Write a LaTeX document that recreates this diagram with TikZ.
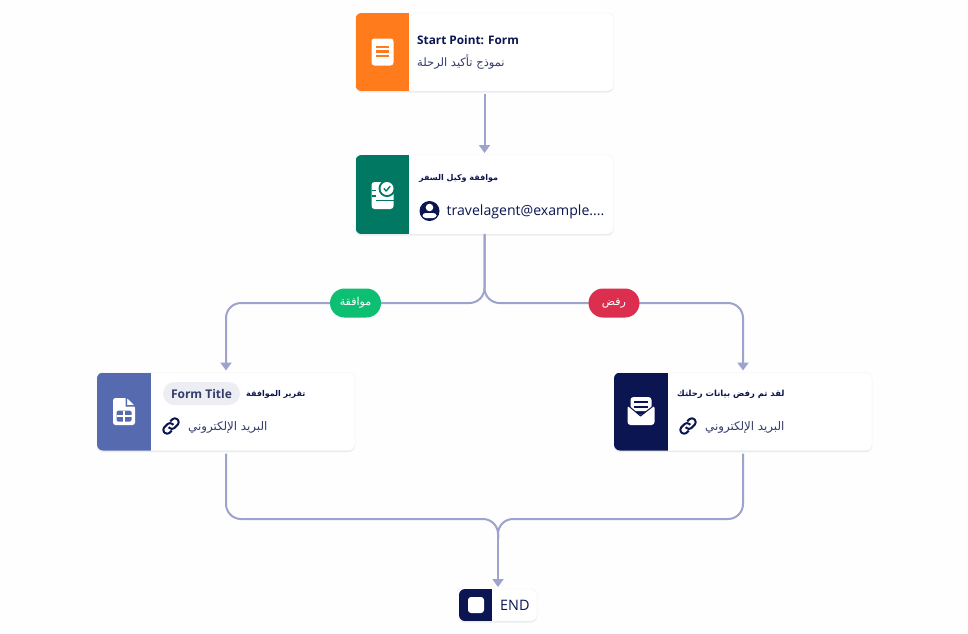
\documentclass[tikz,border=0pt]{standalone}
\usepackage{fontspec}
\usetikzlibrary{arrows.meta,shadows}
\setmainfont{Open Sans}
\newfontfamily\arabicfont[Script=Arabic]{DejaVu Sans}
\TeXXeTstate=1
\definecolor{navy}{HTML}{0A1551}
\definecolor{wire}{HTML}{9DA3CC}
\definecolor{flame}{HTML}{FF7B1C}
\definecolor{teal}{HTML}{007862}
\definecolor{slate}{HTML}{556AAF}
\definecolor{okgreen}{HTML}{0CBF73}
\definecolor{nored}{HTML}{DC2F4F}
\definecolor{tagfill}{HTML}{EDEEF4}
\definecolor{subtext}{HTML}{343C6A}
\definecolor{paper}{HTML}{FEFEFE}
\newcommand{\artext}[1]{{\arabicfont\beginR #1\endR}}
\newcommand{\txt}[1]{\fontsize{#1}{#1}\selectfont}
\tikzset{
  card/.style={draw=black!5,fill=white,rounded corners=6pt,outer sep=0pt,inner sep=0pt,
    minimum width=258pt,minimum height=78pt,
    drop shadow={shadow xshift=0pt,shadow yshift=-1.5pt,opacity=.08,fill=navy}},
  wireline/.style={draw=wire,line width=2pt,-{Triangle[width=11pt,length=8pt]},shorten >=2pt},
  wireplain/.style={draw=wire,line width=2pt},
  pill/.style={text=white,minimum width=51pt,minimum height=29pt,inner sep=0pt,rounded corners=14.5pt},
  heading/.style={anchor=west,inner sep=0pt,text=navy,font=\txt{11.8}\bfseries},
  plainlabel/.style={anchor=west,inner sep=0pt,text=subtext}
}
% icon panel on the left of a card
\newcommand{\cardpanel}[3]{
  \begin{scope}
    \clip[rounded corners=6pt] (#1.north west) rectangle (#1.south east);
    \fill[#2] (#1.north west) rectangle ([xshift=#3]#1.south west);
  \end{scope}
}
\newcommand{\linkicon}[1]{
  \begin{scope}[shift={#1},rotate=45,draw=navy,line width=2pt,rounded corners=3.4pt]
    \draw (2.4,0.8) -- (2.4,-3.8) -- (-9.2,-3.8) -- (-9.2,3.8) -- (-2.8,3.8);
    \draw (-2.4,-0.8) -- (-2.4,3.8) -- (9.2,3.8) -- (9.2,-3.8) -- (2.8,-3.8);
  \end{scope}
}
\begin{document}
\begin{tikzpicture}[x=1pt,y=-1pt,line join=round]
  \useasboundingbox (0,0) rectangle (968,633);
  \fill[paper] (0,0) rectangle (968,633);

  % cards
  \node[card] (start) at (484.5,52) {};
  \node[card,minimum height=79pt] (agent) at (484.5,194.5) {};
  \node[card] (approved) at (226,411.5) {};
  \node[card] (rejected) at (743,411.5) {};
  \node[card,minimum width=78pt,minimum height=32pt] (finish) at (498,605) {};
  \cardpanel{start}{flame}{53pt}
  \cardpanel{agent}{teal}{53pt}
  \cardpanel{approved}{slate}{54pt}
  \cardpanel{rejected}{navy}{54pt}
  \cardpanel{finish}{navy}{33pt}

  % connectors
  \coordinate (split) at (484.5,303);
  \coordinate (merge) at (498,519);
  \draw[wireline] ([yshift=-3pt]start.south) -- (agent.north);
  \draw[wireline,rounded corners=15pt] (agent.south) -- (split) -| (approved.north);
  \draw[wireline,rounded corners=15pt] (agent.south) -- (split) -| (rejected.north);
  \draw[wireplain,rounded corners=15pt] ([yshift=-3pt]approved.south) |- (merge) -- ++(0,20);
  \draw[wireplain,rounded corners=15pt] ([yshift=-3pt]rejected.south) |- (merge) -- ++(0,20);
  \draw[wireline] ([yshift=-20pt]merge) -- (finish.north);

  \node[pill,fill=okgreen] (yes) at (355.5,303) {\raisebox{-1pt}{\txt{11}\artext{موافقة}}};
  \node[pill,fill=nored] (no) at (614,303) {\raisebox{-1pt}{\txt{11}\artext{رفض}}};

  % texts
  \node[heading] (starttitle) at (417,40) {Start Point: Form};
  \node[plainlabel] (startsub) at (417,62) {\txt{11.5}\artext{نموذج تأكيد الرحلة}};
  \node[heading] (agenttitle) at (419,178) {\txt{8}\artext{موافقة وكيل السفر}};
  \node[anchor=west,inner sep=0pt,text=navy] (agentmail) at (446.5,212) {\txt{14.1}travelagent@example....};
  \node[fill=tagfill,text=subtext,font=\txt{12}\bfseries,minimum width=77pt,minimum height=23pt,inner sep=0pt,rounded corners=11.5pt] (formtag) at (201.5,393.5) {Form Title};
  \node[heading] (approvedtitle) at (246,394.5) {\txt{8}\artext{تقرير الموافقة}};
  \node[plainlabel] (approvedsub) at (188,427) {\txt{11.8}\artext{البريد الإلكتروني}};
  \node[heading] (rejectedtitle) at (677,394.5) {\txt{8.4}\artext{لقد تم رفض بيانات رحلتك}};
  \node[plainlabel] (rejectedsub) at (705,427) {\txt{11.8}\artext{البريد الإلكتروني}};
  \node[anchor=west,inner sep=0pt,text=navy] (finishlabel) at (500,605) {\txt{14.4}END};

  % form icon
  \fill[white,rounded corners=3pt] (371.5,38.5) rectangle (393.5,65.5);
  \foreach \y in {47,51.5,56} {
      \fill[flame] (376,\y-1.2) rectangle (389,\y+1.2);
    }
  % approval icon
  \fill[white,rounded corners=3pt] (371.5,182) rectangle (393.5,209);
  \fill[teal] (371.5,189.5) rectangle (376,191);
  \fill[teal] (371.5,195) rectangle (376,196.5);
  \fill[teal] (376,199.8) rectangle (393.5,201.3);
  \fill[teal] (387,188.5) circle (8.5);
  \fill[white] (387,188.5) circle (6.5);
  \draw[teal,line width=1.4pt] (383.8,188.5) -- (386.2,191) -- (390.2,186.2);
  % sheet icon
  \fill[white,rounded corners=2.5pt] (113,398) -- (127,398) -- (135,406) -- (135,425) -- (113,425) -- cycle;
  \fill[slate,rounded corners=1.5pt] (116.5,410.5) rectangle (131.5,421.5);
  \fill[white] (116.5,415.4) rectangle (131.5,416.6);
  \fill[white] (123.4,410.5) rectangle (124.6,421.5);
  \fill[slate] (127,398) -- (127,405) -- (135,405) -- (135,406.5) -- (125.5,406.5) -- (125.5,398) -- cycle;
  % envelope icon
  \fill[white,rounded corners=3pt] (627.5,405) -- (640.5,416) -- (654.5,405) -- (654.5,425) -- (627.5,425) -- cycle;
  \fill[white,rounded corners=3pt] (630.5,397) rectangle (651.5,411);
  \fill[navy] (634,401) rectangle (648,403);
  \fill[navy] (634,405.5) rectangle (648,407.5);
  \draw[navy,line width=1pt] (627.5,405) -- (640.5,416) -- (654.5,405);
  % stop icon
  \fill[white,rounded corners=3pt] (468,597) rectangle (484,613);
  % person icon
  \fill[navy] (429.5,211) circle (10);
  \begin{scope}
    \clip (429.5,211) circle (10);
    \fill[white] (429.5,207.5) circle (3.8);
    \fill[white,rounded corners=3pt] (422.5,213) rectangle (436.5,218);
  \end{scope}
  % link icons
  \linkicon{(171,426)}
  \linkicon{(688,426)}
\end{tikzpicture}
\end{document}
